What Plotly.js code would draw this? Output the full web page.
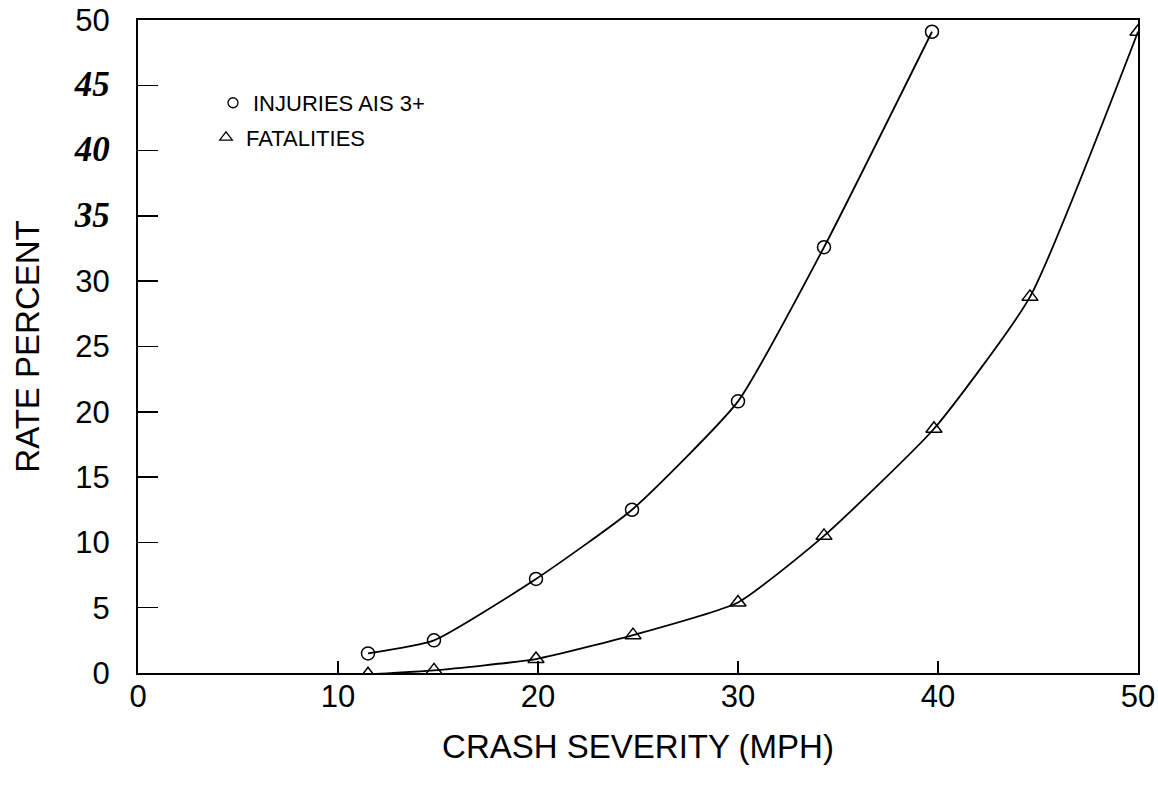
<!DOCTYPE html>
<html>
<head>
<meta charset="utf-8">
<script src="https://cdn.plot.ly/plotly-3.0.1.min.js"></script>
<style>html,body{margin:0;padding:0;background:#fff;}#chart{width:1158px;height:787px;}</style>
</head>
<body>
<div id="chart"></div>
<script>
var injX = [11.5, 14.8, 19.9, 24.7, 30, 34.3, 39.7];
var injY = [1.5, 2.5, 7.2, 12.5, 20.8, 32.6, 49.1];
var fatX = [11.5, 14.8, 19.9, 24.75, 30, 34.3, 39.8, 44.6, 50];
var fatY = [-0.1, 0.2, 1.07, 2.9, 5.4, 10.5, 18.7, 28.8, 49.1];
var seriesNames = ['INJURIES AIS 3+', 'FATALITIES'];
var yTickVals = [0, 5, 10, 15, 20, 25, 30, 35, 40, 45, 50];
var yTickText = ['0', '5', '10', '15', '20', '25', '30', '35', '40', '45', '50'];
var italicTicks = [35, 40, 45];
var xTickVals = [0, 10, 20, 30, 40, 50];
var xTickText = ['0', '10', '20', '30', '40', '50'];
var serif = 'Liberation Serif';

var yText = yTickVals.map(function (v, i) {
  if (italicTicks.indexOf(v) >= 0) {
    return '<span style="font-family:' + serif + ';font-size:35px"><b><i>' + yTickText[i] + '</i></b></span>';
  }
  return yTickText[i];
});

var lineStyle = {color: '#000', width: 1.8, shape: 'spline', smoothing: 0.5};
var traces = [
  {x: injX, y: injY, mode: 'lines', line: lineStyle, showlegend: false, hoverinfo: 'skip'},
  {x: fatX, y: fatY, mode: 'lines', line: lineStyle, showlegend: false, hoverinfo: 'skip'},
  {x: injX, y: injY, mode: 'markers', showlegend: false,
   marker: {symbol: 'circle-open', size: 13, color: '#000', line: {width: 1.5, color: '#000'}}},
  {x: fatX, y: fatY, mode: 'markers', showlegend: false,
   marker: {symbol: 'triangle-up-open', size: 14, color: '#000', line: {width: 1.5, color: '#000'}}},
  {x: [null], y: [null], mode: 'markers', name: seriesNames[0], legend: 'legend',
   marker: {symbol: 'circle-open', size: 10, color: '#000', line: {width: 1.3, color: '#000'}}},
  {x: [null], y: [null], mode: 'markers', name: seriesNames[1], legend: 'legend2',
   marker: {symbol: 'triangle-up-open', size: 11, color: '#000', line: {width: 1.3, color: '#000'}}}
];

var legendCommon = {xanchor: 'left', yanchor: 'middle', bgcolor: 'rgba(0,0,0,0)',
  font: {size: 22, color: '#000'}, itemwidth: 30, borderwidth: 0};

var layout = {
  width: 1158, height: 787,
  margin: {l: 138, r: 20, t: 20, b: 114},
  paper_bgcolor: '#fff', plot_bgcolor: '#fff',
  font: {family: 'Liberation Sans, Arial, sans-serif', color: '#000', size: 30},
  showlegend: true,
  legend: Object.assign({}, legendCommon, {x: 0.075, y: 0.873}),
  legend2: Object.assign({}, legendCommon, {x: 0.068, y: 0.82}),
  xaxis: {
    range: [0, 50], tickvals: xTickVals, ticktext: xTickText, ticks: 'inside', ticklen: 12, tickwidth: 1.5, tickcolor: '#000',
    showline: true, linecolor: '#000', linewidth: 2, mirror: true, showgrid: false, zeroline: false,
    tickfont: {size: 31}, ticklabelstandoff: -5,
    title: {text: 'CRASH SEVERITY (MPH)', font: {size: 33}, standoff: 22}
  },
  yaxis: {
    range: [0, 50], tickvals: yTickVals, ticktext: yText, ticks: 'inside', ticklen: 20, tickwidth: 1.5, tickcolor: '#000',
    showline: true, linecolor: '#000', linewidth: 2, mirror: true, showgrid: false, zeroline: false,
    tickfont: {size: 31}, ticklabelstandoff: 20,
    title: {text: 'RATE PERCENT', font: {size: 33}, standoff: 24}
  }
};

Plotly.newPlot('chart', traces, layout, {displayModeBar: false, staticPlot: true});
</script>
</body>
</html>
